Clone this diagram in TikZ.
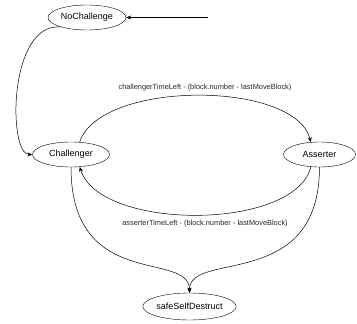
\documentclass[tikz,border=0pt]{standalone}
\usepackage{fontspec}
\setmainfont{Liberation Sans}
\usetikzlibrary{arrows.meta,shapes.geometric}
\tikzset{
  state/.style={draw=black,fill=white,ellipse,inner sep=0pt,
    minimum width=77pt,minimum height=25pt,font=\fontsize{9}{10}\selectfont},
  edgelabel/.style={font=\fontsize{7.4}{8}\selectfont,text=black!85},
  arr/.style={-{Stealth[length=5pt,width=4pt]},draw=black,line width=0.5pt},
}
\begin{document}
\begin{tikzpicture}[x=1pt,y=-1pt]
    \useasboundingbox (0,0) rectangle (357,324);
    \node[state,minimum width=78pt] (noch) at (87,17.5) {NoChallenge};
    \node[state] (chal) at (71,154.5) {Challenger};
    \node[state,minimum width=72pt] (ass) at (319.5,154.5) {Asserter};
    \node[state,minimum width=76pt,minimum height=27pt] (ssd) at (189.5,306.5) {safeSelfDestruct};
    \coordinate (start) at (208,17.5);
    \node[edgelabel] (lblc) at (205,88) {challengerTimeLeft - (block.number - lastMoveBlock)};
    \node[edgelabel] (lbla) at (205,224) {asserterTimeLeft - (block.number - lastMoveBlock)};
    % transitions
    \draw[arr] (start) -- (noch.east);
    \draw[arr] (noch.200) .. controls (8,22) and (8,154.5) .. (chal.west);
    \draw[arr] (chal.55) .. controls (100,80) and (295,80) .. (ass.125);
    \draw[arr] (ass.-125) .. controls (295,231) and (100,231) .. (chal.-55);
    \draw[arr] (chal.south) .. controls (71,292) and (189.5,250) .. (ssd.north);
    \draw[arr] (ass.south) .. controls (319.5,292) and (189.5,250) .. (ssd.north);
  \end{tikzpicture}
\end{document}
